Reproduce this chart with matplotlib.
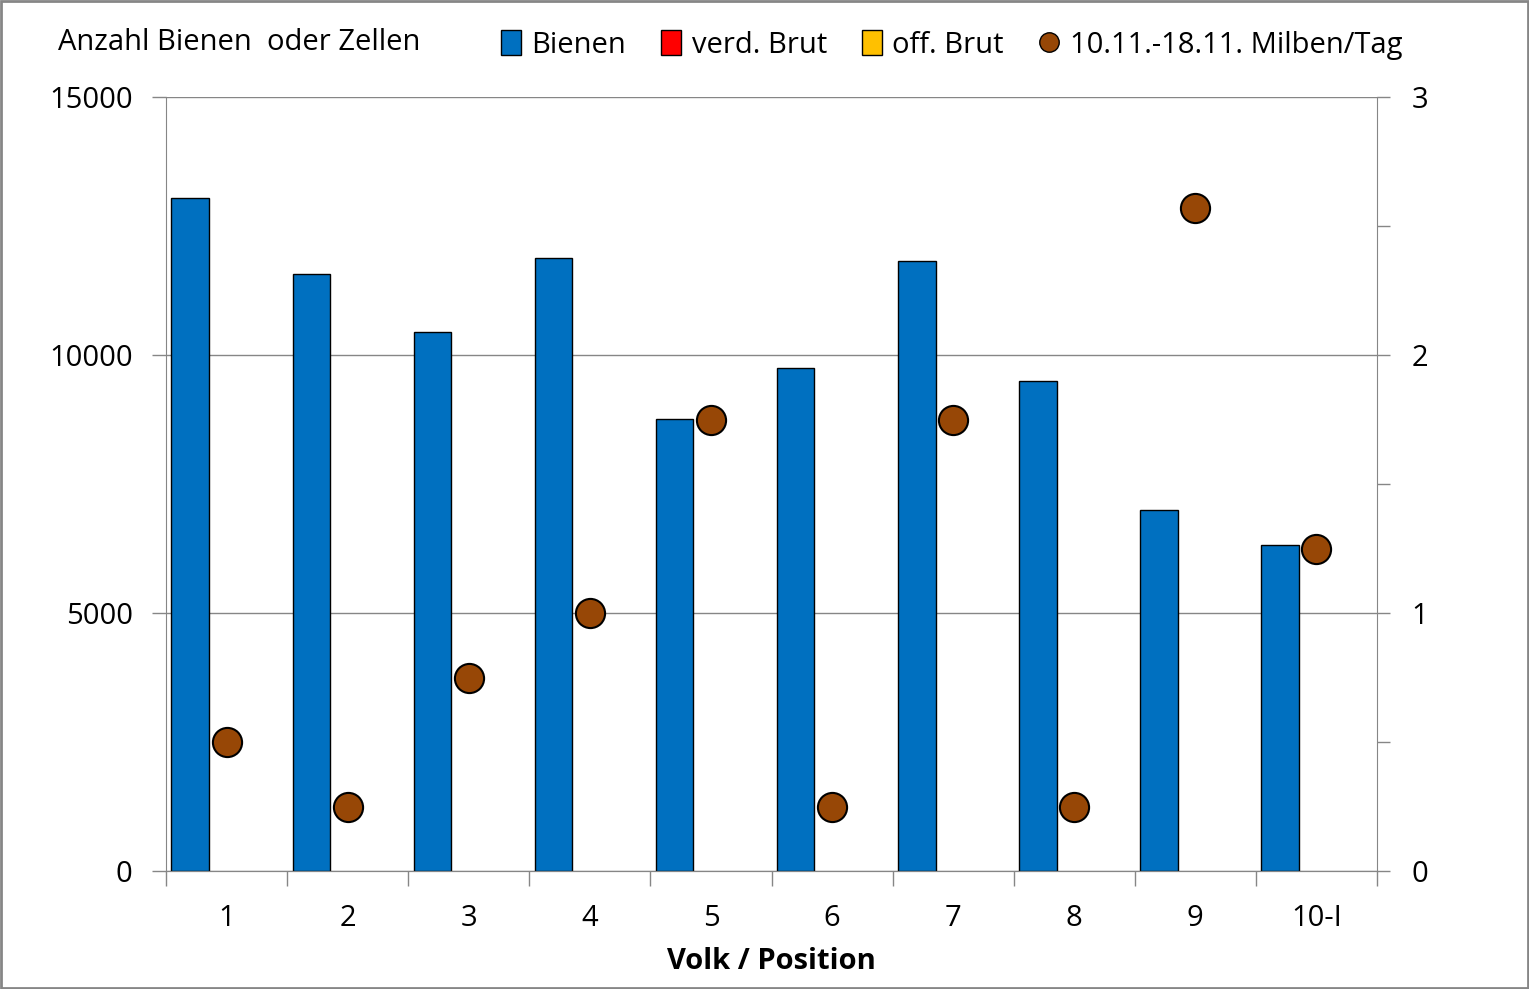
import matplotlib
matplotlib.use("Agg")
import matplotlib.pyplot as plt
import numpy as np
from matplotlib.ticker import FixedLocator, MultipleLocator
from matplotlib.lines import Line2D
from matplotlib.patches import Patch

plt.rcParams['font.family'] = ['Open Sans', 'DejaVu Sans']

categories = ["1", "2", "3", "4", "5", "6", "7", "8", "9", "10-I"]
bienen = [13050, 11570, 10440, 11880, 8760, 9750, 11820, 9500, 7000, 6320]
verd_brut = [np.nan] * 10
off_brut = [np.nan] * 10
milben = [0.5, 0.25, 0.75, 1.0, 1.75, 0.25, 1.75, 0.25, 2.57, 1.25]

GRAY = "#868686"
FS = 21
fig = plt.figure(figsize=(15.29, 9.89), dpi=100)
ax = fig.add_axes([166/1529, 1-871/989, (1377-166)/1529, (871-97)/989])
ax2 = ax.twinx()

x = np.arange(len(categories))
bw = 0.31
off0 = 0.045
b1 = ax.bar(x - 0.5 + off0, bienen, width=bw, align='edge', color="#0070C0",
            edgecolor="black", linewidth=1, label="Bienen", zorder=3)
b2 = ax.bar(x - 0.5 + off0 + bw, verd_brut, width=bw, align='edge', color="#FF0000",
            edgecolor="black", linewidth=1, label="verd. Brut", zorder=3)
b3 = ax.bar(x - 0.5 + off0 + 2*bw, off_brut, width=bw, align='edge', color="#FFC000",
            edgecolor="black", linewidth=1, label="off. Brut", zorder=3)
ax2.plot(x, milben, linestyle='none', marker='o', markersize=21,
         markerfacecolor="#974706", markeredgecolor="black", markeredgewidth=1.5,
         label="10.11.-18.11. Milben/Tag", zorder=5)

ax.set_xlim(-0.5, len(categories) - 0.5)
ax.set_ylim(0, 15000)
ax2.set_ylim(0, 3)
ax.set_yticks([0, 5000, 10000, 15000])
ax.yaxis.grid(True, color=GRAY, linewidth=1)
ax.set_axisbelow(True)
ax2.set_yticks([0, 1, 2, 3])
ax2.yaxis.set_minor_locator(MultipleLocator(0.5))

ax.set_xticks(x)
ax.set_xticklabels(categories)
ax.xaxis.set_minor_locator(FixedLocator(np.arange(-0.5, len(categories), 1.0)))
ax.tick_params(axis='x', which='major', length=0, pad=24, labelsize=FS)
ax.tick_params(axis='x', which='minor', length=11, color=GRAY, width=1)
ax.tick_params(axis='y', which='major', length=10, color=GRAY, width=1, labelsize=FS, pad=14)
ax2.tick_params(axis='y', which='both', length=9, color=GRAY, width=1, labelsize=FS, pad=16)

for a in (ax, ax2):
    a.spines['top'].set_visible(False)
    a.spines['left'].set_color(GRAY)
    a.spines['right'].set_color(GRAY)
    a.spines['bottom'].set_color(GRAY)
ax.spines['right'].set_visible(False)
ax2.spines['left'].set_visible(False)

ax.set_xlabel("Volk / Position", fontsize=FS, fontweight='bold', labelpad=10)
fig.text(58/1529, 1-43/989, "Anzahl Bienen  oder Zellen", fontsize=FS, va='center', ha='left')

handles = [Patch(facecolor="#0070C0", edgecolor="black"),
           Patch(facecolor="#FF0000", edgecolor="black"),
           Patch(facecolor="#FFC000", edgecolor="black"),
           Line2D([], [], linestyle='none', marker='o', markersize=14,
                  markerfacecolor="#974706", markeredgecolor="black", markeredgewidth=1)]
labels = ["Bienen", "verd. Brut", "off. Brut", "10.11.-18.11. Milben/Tag"]
fig.legend(handles, labels, ncol=4, loc='center right', bbox_to_anchor=(1402/1529, 1-45/989),
           frameon=False, fontsize=FS, handlelength=0.7, handleheight=0.9,
           handletextpad=0.35, columnspacing=1.2, borderpad=0, borderaxespad=0)

fig.patches.append(plt.Rectangle((0.0005, 0.0008), 0.999, 0.9985, transform=fig.transFigure,
                                 fill=False, edgecolor=GRAY, linewidth=2))
fig.savefig("out.png", dpi=100)
